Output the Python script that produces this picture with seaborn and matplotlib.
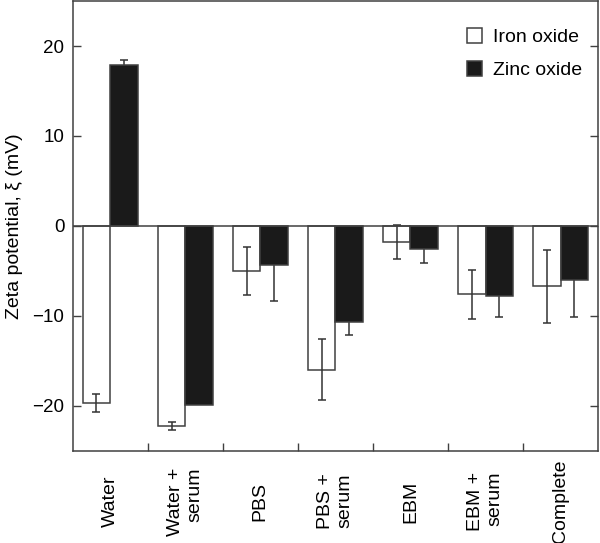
import matplotlib
matplotlib.use('Agg')
import matplotlib.pyplot as plt
import seaborn as sns
import numpy as np
import pandas as pd

# values
categories = ['Water', 'Water +\nserum', 'PBS', 'PBS +\nserum', 'EBM', 'EBM +\nserum', 'Complete']
iron = [-19.7, -22.3, -5.0, -16.0, -1.8, -7.6, -6.7]
iron_err = [1.0, 0.45, 2.7, 3.4, 1.9, 2.7, 4.05]
zinc = [17.85, -19.9, -4.4, -10.7, -2.6, -7.85, -6.05]
zinc_err = [0.65, 0.0, 3.95, 1.4, 1.5, 2.25, 4.1]
series = ['Iron oxide', 'Zinc oxide']
yticks = [-20, -10, 0, 10, 20]

grey = '#404040'

sns.set_style('ticks')
plt.rcParams['font.family'] = ['Liberation Sans', 'DejaVu Sans']
plt.rcParams['text.color'] = 'black'
plt.rcParams['axes.labelcolor'] = 'black'
plt.rcParams['xtick.labelcolor'] = 'black'
plt.rcParams['ytick.labelcolor'] = 'black'

df = pd.concat([
    pd.DataFrame({'cat': categories, 'zeta': iron, 'err': iron_err, 'np': series[0]}),
    pd.DataFrame({'cat': categories, 'zeta': zinc, 'err': zinc_err, 'np': series[1]}),
])

fig = plt.figure(figsize=(6, 5.43), dpi=100)
ax = fig.add_axes([0.121, 0.17, 0.876, 0.828])

sns.barplot(
    data=df, x='cat', y='zeta', hue='np',
    order=categories, hue_order=series,
    palette=['white', '#1a1a1a'],
    edgecolor=grey, linewidth=1.1,
    width=0.73, errorbar=None, ax=ax,
)

# error bars from the bar patches; the ones on black bars sit behind them
for cont, errs, z in zip(ax.containers, [iron_err, zinc_err], [4, 0.9]):
    xs, ys, es = [], [], []
    for bar, e in zip(cont, errs):
        if e > 0:
            xs.append(bar.get_x() + bar.get_width() / 2)
            ys.append(bar.get_height())
            es.append(e)
    ax.errorbar(xs, ys, yerr=es, fmt='none', ecolor='#333333',
                elinewidth=1.1, capsize=3, capthick=1.1, zorder=z)

ax.axhline(0, color=grey, linewidth=1.1, zorder=5)

ax.set_ylim(-25, 25)
ax.set_xlim(-0.5, len(categories) - 0.5)
ax.set_yticks(yticks)
ax.set_yticklabels([str(t).replace('-', '\u2212') for t in yticks], fontsize=13.5)
ax.set_xticks(range(len(categories)))
ax.set_xticklabels(categories, rotation=90, fontsize=14, va='center',
                   ha='center', multialignment='right')
ax.set_xticks(np.arange(0.5, len(categories) - 0.5, 1), minor=True)

ax.tick_params(axis='x', which='major', length=0, pad=36.5)
ax.tick_params(axis='x', which='minor', direction='in', length=6,
               width=1.0, color=grey)
ax.tick_params(axis='y', which='major', direction='in', length=6,
               width=1.0, color=grey, right=True, pad=6)

for s in ax.spines.values():
    s.set_visible(True)
    s.set_color(grey)
    s.set_linewidth(1.1)

ax.set_xlabel('')
ax.set_ylabel('Zeta potential, \u03be (mV)', fontsize=14, labelpad=7)

ax.legend(loc='upper right', bbox_to_anchor=(0.969, 0.94), frameon=False,
          fontsize=14, borderpad=0, borderaxespad=0, handlelength=0.8,
          handleheight=0.8, handletextpad=0.55, labelspacing=0.75)

plt.savefig('out.png', dpi=100)
plt.close('all')
